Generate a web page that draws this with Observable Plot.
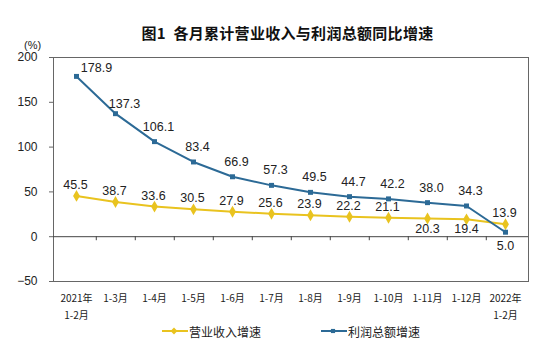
<!DOCTYPE html>
<html>
<head>
<meta charset="utf-8">
<script src="https://cdn.jsdelivr.net/npm/d3@7"></script>
<script src="https://cdn.jsdelivr.net/npm/@observablehq/plot@0.6"></script>
<style>
  html, body { margin: 0; padding: 0; background: #fff; }
  #wrap { position: relative; width: 550px; height: 358px; overflow: hidden; font-family: "Noto Sans CJK SC", "Liberation Sans", sans-serif; }
  #title { position: absolute; left: 0; width: 575px; top: 22px; text-align: center; font-size: 15px; font-weight: 700; color: #111; letter-spacing: 0.3px; }
  #unit { position: absolute; left: 24px; top: 39px; font-size: 11px; color: #222; font-family: "Liberation Sans", sans-serif; }
  #legend { position: absolute; top: 321px; left: 0; width: 550px; height: 20px; font-size: 12px; color: #222; }
  .item { position: absolute; top: 0; display: flex; align-items: center; height: 20px; }
  .item svg { margin-right: 1px; }
  #chart { position: absolute; left: 0; top: 0; }
</style>
</head>
<body>
<div id="wrap">
  <div id="chart"></div>
  <div id="title">图1&nbsp; 各月累计营业收入与利润总额同比增速</div>
  <div id="unit">(%)</div>
  <div id="legend"></div>
</div>
<script>
const categories = ["2021年\n1-2月", "1-3月", "1-4月", "1-5月", "1-6月", "1-7月", "1-8月", "1-9月", "1-10月", "1-11月", "1-12月", "2022年\n1-2月"];
const revenueGrowth = [45.5, 38.7, 33.6, 30.5, 27.9, 25.6, 23.9, 22.2, 21.1, 20.3, 19.4, 13.9];
const profitGrowth = [178.9, 137.3, 106.1, 83.4, 66.9, 57.3, 49.5, 44.7, 42.2, 38.0, 34.3, 5.0];
const seriesNames = ["营业收入增速", "利润总额增速"];
const yTicks = [-50, 0, 50, 100, 150, 200];

const yellow = "#E9C31F";
const blue = "#2C6A96";

const revenue = categories.map((c, i) => ({cat: c, v: revenueGrowth[i], i}));
const profit = categories.map((c, i) => ({cat: c, v: profitGrowth[i], i}));

const W = 550, H = 358;
const mL = 53, mR = 22, mT = 57, mB = 77;
const step = (W - mL - mR) / categories.length;

const chart = Plot.plot({
  width: W,
  height: H,
  marginLeft: mL,
  marginRight: mR,
  marginTop: mT,
  marginBottom: mB,
  style: {fontFamily: "Liberation Sans, Arial, sans-serif", color: "#222", background: "transparent"},
  x: {type: "point", domain: categories, padding: 0.5},
  y: {domain: [-50, 200]},
  marks: [
    Plot.frame({stroke: "#666", strokeWidth: 1}),
    Plot.axisY({ticks: yTicks, tickSize: 4, tickPadding: 12, fontSize: 12, label: null, stroke: "#666"}),
    Plot.axisX({tickSize: 0, tickPadding: 8, fontSize: 10, lineHeight: 1.75, label: null,
      fontFamily: "Noto Sans CJK SC", fill: "#222"}),
    Plot.ruleY([0], {stroke: "#444", strokeWidth: 1}),
    Plot.ruleX(categories.slice(0, -1), {x: d => d, dx: step / 2, y1: 0, y2: -4.5, stroke: "#444"}),
    Plot.line(revenue, {x: "cat", y: "v", stroke: yellow, strokeWidth: 2}),
    Plot.dot(revenue, {x: "cat", y: "v", symbol: "diamond", r: 3.6, fill: yellow, stroke: null}),
    Plot.line(profit, {x: "cat", y: "v", stroke: blue, strokeWidth: 2}),
    Plot.dot(profit, {x: "cat", y: "v", symbol: "square", r: 2.8, fill: blue, stroke: null}),
    // revenue labels
    Plot.text(revenue.filter(d => d.i !== 9 && d.i !== 10), {x: "cat", y: "v", text: d => d.v.toFixed(1), dx: -1, dy: -11, fontSize: 12.5, fill: "#222"}),
    Plot.text(revenue.filter(d => d.i === 9 || d.i === 10), {x: "cat", y: "v", text: d => d.v.toFixed(1), dy: 10, fontSize: 12.5, fill: "#222"}),
    // profit labels
    Plot.text(profit.filter(d => d.i === 0), {x: "cat", y: "v", text: d => d.v.toFixed(1), dx: 20, dy: -8, fontSize: 12.5, fill: "#222"}),
    Plot.text(profit.filter(d => d.i === 1), {x: "cat", y: "v", text: d => d.v.toFixed(1), dx: 9, dy: -10, fontSize: 12.5, fill: "#222"}),
    Plot.text(profit.filter(d => d.i >= 2 && d.i <= 10), {x: "cat", y: "v", text: d => d.v.toFixed(1), dx: 4, dy: -15, fontSize: 12.5, fill: "#222"}),
    Plot.text(profit.filter(d => d.i === 11), {x: "cat", y: "v", text: d => d.v.toFixed(1), dx: 0, dy: 14, fontSize: 12.5, fill: "#222"})
  ]
});
document.getElementById("chart").appendChild(chart);

// legend
const legend = document.getElementById("legend");
const legendItems = [
  {name: seriesNames[0], color: yellow, symbol: "diamond", left: 162},
  {name: seriesNames[1], color: blue, symbol: "square", left: 321}
];
for (const it of legendItems) {
  const div = document.createElement("div");
  div.className = "item";
  div.style.left = it.left + "px";
  const ns = "http://www.w3.org/2000/svg";
  const s = document.createElementNS(ns, "svg");
  s.setAttribute("width", 26); s.setAttribute("height", 20);
  const ln = document.createElementNS(ns, "line");
  ln.setAttribute("x1", 0); ln.setAttribute("x2", 26); ln.setAttribute("y1", 10); ln.setAttribute("y2", 10);
  ln.setAttribute("stroke", it.color); ln.setAttribute("stroke-width", 2);
  s.appendChild(ln);
  const sym = document.createElementNS(ns, "path");
  const gen = d3.symbol(it.symbol === "diamond" ? d3.symbolDiamond2 : d3.symbolSquare2, it.symbol === "diamond" ? 30 : 22);
  sym.setAttribute("d", gen());
  sym.setAttribute("transform", "translate(12,10)");
  sym.setAttribute("fill", it.color);
  s.appendChild(sym);
  div.appendChild(s);
  const t = document.createElement("span");
  t.textContent = it.name;
  div.appendChild(t);
  legend.appendChild(div);
}
</script>
</body>
</html>
